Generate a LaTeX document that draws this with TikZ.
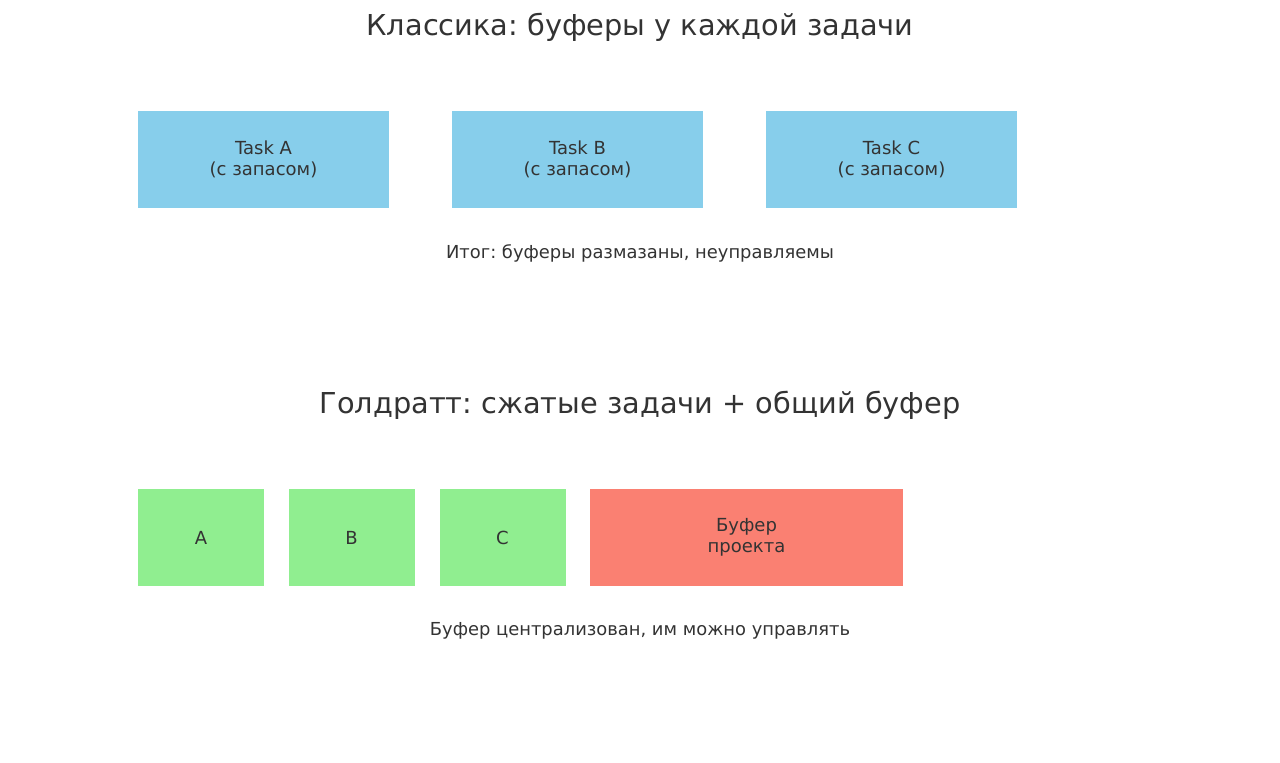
\documentclass[tikz,border=0pt]{standalone}
\usepackage{fontspec}
\setmainfont{DejaVu Sans}
\frenchspacing
\definecolor{txt}{HTML}{333333}
\definecolor{skyb}{HTML}{87CEEB}
\definecolor{lgreen}{HTML}{90EE90}
\definecolor{salm}{HTML}{FA8072}
\tikzset{taskbox/.style={fill=skyb,text=txt,align=center,inner sep=0pt,minimum width=125.5pt,minimum height=48.5pt,font=\fontsize{9}{10.2}\selectfont},
         short/.style={fill=lgreen,text=txt,align=center,inner sep=0pt,minimum width=63pt,minimum height=48.5pt,font=\fontsize{9}{10.2}\selectfont},
         bigtitle/.style={text=txt,font=\fontsize{14.4}{16}\selectfont},
         note/.style={text=txt,font=\fontsize{8.95}{10}\selectfont}}

\begin{document}
\begin{tikzpicture}[x=0.5pt,y=-0.5pt]
                  \useasboundingbox (0,0) rectangle (1280,763);
                  % classic plan
                  \node[bigtitle] (titleA) at (640,27.5) {Классика: буферы у каждой задачи};
                  \node[taskbox] (ta) at (263.5,159.5) {Task A\\(с запасом)};
                  \node[taskbox] (tb) at (577.5,159.5) {Task B\\(с запасом)};
                  \node[taskbox] (tc) at (891.5,159.5) {Task C\\(с запасом)};
                  \node[note] (noteA) at (640,253) {Итог: буферы размазаны, неуправляемы};
                  % goldratt plan
                  \node[bigtitle] (titleB) at (640,405.5) {Голдратт: сжатые задачи + общий буфер};
                  \node[short] (a) at (201,537.5) {A};
                  \node[short] (b) at (351.5,537.5) {B};
                  \node[short] (c) at (502.5,537.5) {C};
                  \node[short,fill=salm,minimum width=156.5pt] (buf) at (746.5,537.5) {Буфер\\проекта};
                  \node[note] (noteB) at (640,631) {Буфер централизован, им можно управлять};
              \end{tikzpicture}
\end{document}
